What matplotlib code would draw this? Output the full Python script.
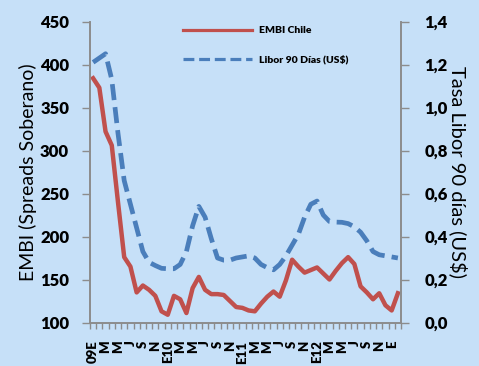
import numpy as np
import matplotlib
matplotlib.use("Agg")
import matplotlib.pyplot as plt

# monthly data, Jan 2009 .. Feb 2013
embi = [384, 373, 322, 306, 240, 176, 165, 135, 143, 138, 131, 113,
        109, 131, 127, 111, 140, 153, 138, 133, 133, 132, 125, 118,
        117, 114, 113, 122, 130, 136, 130, 149, 173, 165, 158, 161,
        164, 157, 150, 160, 169, 176, 168, 142, 135, 127, 134, 120,
        114, 134]
libor = [1.21, 1.23, 1.25, 1.13, 0.88, 0.66, 0.55, 0.44, 0.33, 0.28, 0.265, 0.252,
         0.25, 0.25, 0.27, 0.33, 0.45, 0.54, 0.49, 0.39, 0.30, 0.29, 0.29, 0.30,
         0.305, 0.31, 0.30, 0.27, 0.255, 0.245, 0.27, 0.31, 0.36, 0.41, 0.49, 0.55,
         0.565, 0.50, 0.47, 0.467, 0.466, 0.46, 0.445, 0.42, 0.38, 0.33, 0.315, 0.31,
         0.305, 0.30]
year_labels = ["09E", "E10", "E11", "E12", "E"]
bimonth = ["M", "M", "J", "S", "N"]

# one label every two months
month_labels = []
for y in range(4):
    month_labels.append(year_labels[y])
    month_labels.extend(bimonth)
month_labels.append(year_labels[4])

left_ticks = np.arange(100, 451, 50)
right_ticks = np.arange(0, 1.41, 0.2)

bg = "#C6E0F8"
red = "#C0504D"
blue = "#4A7EBB"
grey = "#8C8C8C"
plt.rcParams['font.family'] = ['Lato', 'DejaVu Sans']

fig = plt.figure(figsize=(4.79, 3.66), dpi=100, facecolor=bg)
ax = fig.add_axes([90 / 479, 1 - 322.5 / 366, 311 / 479, 301 / 366])
ax.set_facecolor(bg)
ax2 = ax.twinx()

x = np.arange(len(embi))
l1, = ax.plot(x, embi, color=red, lw=3.2, solid_joinstyle='round',
              label="EMBI Chile")
l2, = ax2.plot(x, libor, color=blue, lw=3.4, linestyle=(0, (3.4, 1.5)),
               label="Libor 90 Días (US$)")

ax.set_xlim(-0.5, len(embi) - 0.5)
ax.set_ylim(100, 450)
ax2.set_ylim(0, 1.4)

ax.set_yticks(left_ticks)
ax.set_yticklabels([str(v) for v in left_ticks], fontsize=12, fontweight='heavy')
ax2.set_yticks(right_ticks)
ax2.set_yticklabels([("%.1f" % v).replace(".", ",") for v in right_ticks],
                    fontsize=12, fontweight='heavy')

ax.set_xticks(x[::2])
ax.set_xticklabels(month_labels, rotation=90, fontsize=9.5, fontweight='heavy',
                   va='top')
ax.set_xticks(np.arange(-0.5, len(embi), 1), minor=True)
ax.tick_params(axis='x', which='major', length=0, pad=13)
ax.tick_params(axis='x', which='minor', length=4, color=grey, width=1)
ax.tick_params(axis='y', length=6, color=grey, width=1, pad=9)
ax2.tick_params(axis='y', length=6, color=grey, width=1, pad=11)

for a in (ax, ax2):
    a.spines['top'].set_visible(False)
    for s in ('left', 'right', 'bottom'):
        a.spines[s].set_color(grey)
        a.spines[s].set_linewidth(1.2)

ax.set_ylabel("EMBI (Spreads Soberano)", fontsize=14, labelpad=2)
ax2.set_ylabel("Tasa Libor 90 días (US$)", fontsize=14.5, rotation=-90,
               labelpad=14)

leg = ax2.legend([l1, l2], [l1.get_label(), l2.get_label()],
                 loc='upper left', bbox_to_anchor=(183 / 479, 1 - 26 / 366),
                 bbox_transform=fig.transFigure, frameon=False,
                 prop={'weight': 'heavy', 'size': 7.5}, handlelength=6.6,
                 handletextpad=0.7, labelspacing=1.9, borderpad=0,
                 borderaxespad=0)
for ln in leg.get_lines():
    ln.set_linewidth(2.3)

fig.savefig("out.png", dpi=100, facecolor=bg)
